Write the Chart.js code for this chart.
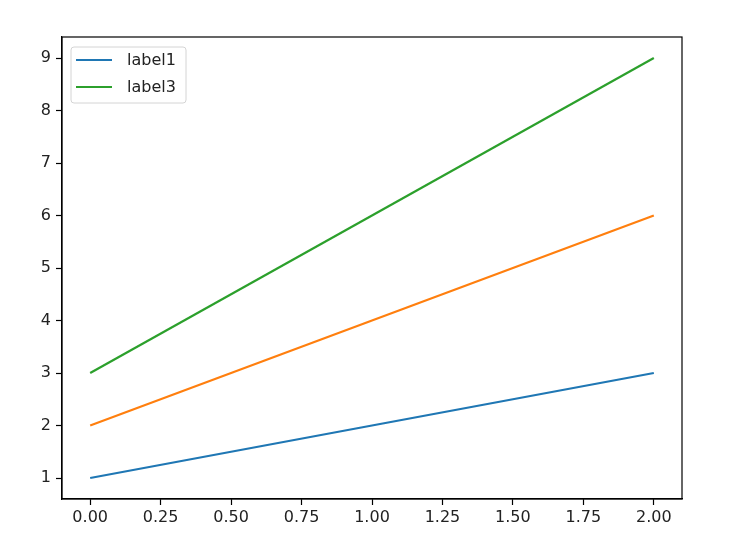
<!DOCTYPE html>
<html>
<head>
<meta charset="utf-8">
<script src="https://cdn.jsdelivr.net/npm/chart.js@4/dist/chart.umd.min.js"></script>
<style>
  html, body { margin: 0; padding: 0; background: #fff; }
  #wrap { width: 742px; height: 547px; }
</style>
</head>
<body>
<div id="wrap"><canvas id="lineChart" width="742" height="547"></canvas></div>
<script>
var xValues = [0, 1, 2];
var series1 = [1, 2, 3];
var series2 = [2, 4, 6];
var series3 = [3, 6, 9];
var xTicks = [0, 0.25, 0.5, 0.75, 1, 1.25, 1.5, 1.75, 2];
var yTicks = [1, 2, 3, 4, 5, 6, 7, 8, 9];

function points(ys) {
    return xValues.map(function (x, i) { return { x: x, y: ys[i] }; });
}

var FONT = { family: "'DejaVu Sans', sans-serif", size: 16 };

// frame + legend drawn like matplotlib
var framePlugin = {
    id: 'frame',
    afterDraw: function (chart) {
        var ctx = chart.ctx, a = chart.chartArea;
        ctx.save();
        ctx.strokeStyle = '#000';
        ctx.lineWidth = 1.2;
        ctx.strokeRect(a.left, a.top, a.right - a.left, a.bottom - a.top);

        var items = chart.data.datasets.filter(function (d) { return d.label; });
        var bx = a.left + 9, by = a.top + 10, bw = 115, bh = 56;
        ctx.beginPath();
        ctx.roundRect(bx, by, bw, bh, 3);
        ctx.fillStyle = 'rgba(255,255,255,0.8)';
        ctx.fill();
        ctx.strokeStyle = '#d4d4d4';
        ctx.lineWidth = 1;
        ctx.stroke();

        ctx.font = FONT.size + 'px ' + FONT.family;
        ctx.textBaseline = 'middle';
        items.forEach(function (d, i) {
            var y = by + 13 + i * 27;
            ctx.beginPath();
            ctx.moveTo(bx + 5, y);
            ctx.lineTo(bx + 41, y);
            ctx.strokeStyle = d.borderColor;
            ctx.lineWidth = 2.2;
            ctx.stroke();
            ctx.fillStyle = '#222';
            ctx.fillText(d.label, bx + 56, y + 1);
        });
        ctx.restore();
    }
};

var ctxL = document.getElementById("lineChart").getContext('2d');
var myLineChart = new Chart(ctxL, {
    type: 'line',
    data: {
        datasets: [
            { label: 'label1', data: points(series1), borderColor: '#1f77b4' },
            { data: points(series2), borderColor: '#ff7f0e' },
            { label: 'label3', data: points(series3), borderColor: '#2ca02c' }
        ]
    },
    options: {
        responsive: false,
        animation: false,
        devicePixelRatio: 1,
        layout: { padding: { left: 0, top: 37, right: 60, bottom: 0 } },
        elements: {
            line: { borderWidth: 2.2, tension: 0 },
            point: { radius: 0 }
        },
        plugins: {
            legend: { display: false },
            tooltip: { enabled: false }
        },
        scales: {
            x: {
                type: 'linear',
                min: -0.1,
                max: 2.1,
                afterBuildTicks: function (s) { s.ticks = xTicks.map(function (v) { return { value: v }; }); },
                afterFit: function (s) { s.height = 48; },
                ticks: {
                    font: FONT, color: '#222', padding: 3, maxRotation: 0, autoSkip: false,
                    callback: function (v) { return Number(v).toFixed(2); }
                },
                grid: { drawOnChartArea: false, drawTicks: true, tickLength: 6, color: '#000', tickWidth: 1.2 },
                border: { display: true, color: '#000', width: 1.2 }
            },
            y: {
                min: 0.6,
                max: 9.4,
                afterBuildTicks: function (s) { s.ticks = yTicks.map(function (v) { return { value: v }; }); },
                afterFit: function (s) { s.width = 62; },
                ticks: { font: FONT, color: '#222', padding: 5, autoSkip: false },
                grid: { drawOnChartArea: false, drawTicks: true, tickLength: 6, color: '#000', tickWidth: 1.2 },
                border: { display: true, color: '#000', width: 1.2 }
            }
        }
    },
    plugins: [framePlugin]
});
</script>
</body>
</html>
